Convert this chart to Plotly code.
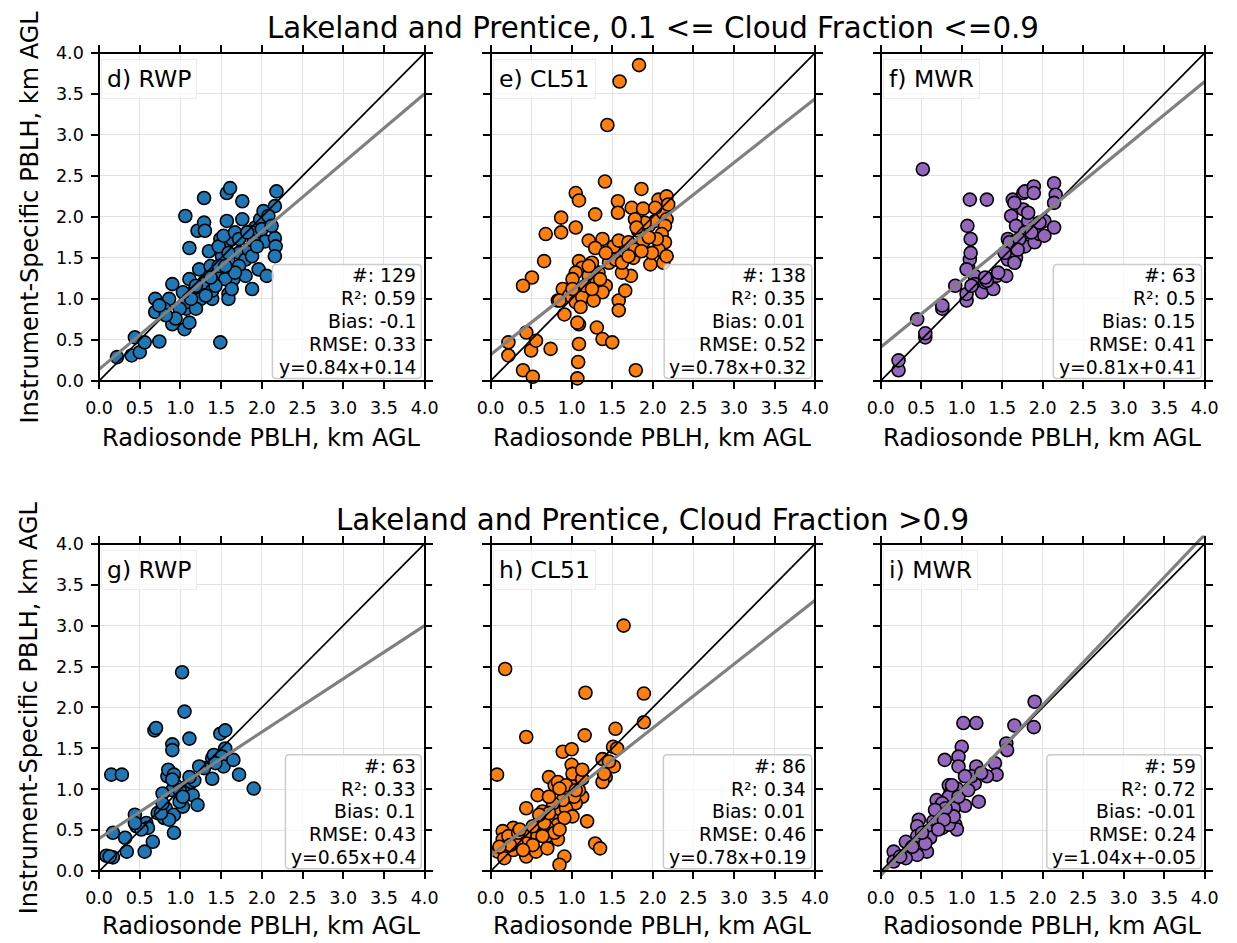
import plotly.graph_objects as go

W, H = 1237, 943
FONT = "DejaVu Sans"

# ---------------- data (km AGL) ----------------
d_rwp_x = [0.22,0.40,0.44,0.50,0.56,0.74,0.69,0.69,0.86,0.90,0.90,1.05,1.06,1.11,1.11,1.11,1.07,1.07,1.15,1.21,
           1.29,1.30,1.29,1.23,1.25,1.29,1.35,1.37,1.39,1.39,1.43,1.49,1.49,1.55,1.57,1.57,1.61,1.59,1.59,1.63,
           1.65,1.59,1.76,1.76,1.72,1.80,1.84,1.88,1.92,1.98,2.02,1.96,1.98,2.04,2.06,2.16,2.18,2.16,2.17,2.16,
           1.88,1.90,1.72,1.51,1.47,0.99,0.94,1.19,1.13,1.47,1.55,1.31,1.43,1.63,1.80,1.67,1.88,1.94,2.00,2.08,
           2.12,1.59,1.53,1.67,1.55,1.72,1.82,1.37,1.19,1.03,0.80,0.82,0.74]
d_rwp_y = [0.29,0.31,0.53,0.35,0.47,0.48,1.00,0.84,1.00,1.18,0.69,0.63,2.01,1.62,1.24,0.71,0.88,0.96,1.08,1.83,
           1.93,1.83,2.23,1.36,1.00,1.20,1.58,1.40,1.00,1.10,1.28,0.47,1.73,1.69,1.95,2.29,2.35,1.46,1.06,1.73,
           1.24,1.00,1.97,2.19,1.56,1.48,1.60,1.12,1.87,1.97,2.07,1.36,1.77,1.70,1.28,2.13,2.31,1.74,1.64,1.52,
           1.81,1.70,1.40,1.52,1.64,0.88,0.76,0.88,1.00,1.40,1.24,1.04,1.16,1.12,1.28,1.32,1.52,1.64,1.85,2.01,
           1.89,1.56,1.77,1.81,1.40,1.73,1.81,1.26,1.16,1.08,0.88,0.80,0.92]

e_cl51_x = [1.83,1.59,1.44,1.41,1.86,1.05,1.09,1.57,1.74,1.88,1.57,2.07,2.17,0.87,1.29,0.87,1.05,0.68,1.21,1.38,
            1.29,0.66,0.51,0.40,1.09,1.13,1.05,1.21,1.33,1.29,1.42,1.38,0.89,0.97,0.83,1.05,1.13,1.27,1.11,0.91,
            1.58,1.58,1.66,1.73,1.62,1.76,1.66,1.52,1.58,1.70,1.88,1.82,1.95,2.03,2.13,2.17,2.15,2.11,2.15,2.07,
            1.97,2.13,2.17,1.99,1.90,1.78,1.80,1.09,1.07,1.31,1.38,1.50,1.09,0.74,0.50,0.56,0.44,0.22,0.22,0.40,
            0.52,1.08,1.07,1.79,0.85,1.01,1.17,1.46,1.54,1.62,1.78,1.42,1.25,1.70,2.05,1.86,1.35,1.25,1.21,1.01,
            2.03,2.19,1.95]
e_cl51_y = [3.85,3.65,3.12,2.43,2.34,2.29,2.20,2.19,2.11,2.10,2.05,2.21,2.25,1.99,2.03,1.81,1.87,1.79,1.71,1.73,
            1.62,1.46,1.26,1.16,1.46,1.38,1.32,1.28,1.32,1.22,1.16,1.08,1.12,1.04,0.98,0.96,1.02,0.98,0.90,0.81,
            0.98,0.86,1.10,1.28,1.32,1.50,1.64,1.64,1.71,1.69,1.69,1.83,1.89,1.95,2.05,1.97,1.89,1.79,1.69,1.60,
            1.42,1.44,1.52,1.56,1.93,1.97,1.87,0.69,0.71,0.65,0.51,0.47,0.45,0.39,0.37,0.49,0.59,0.47,0.31,0.13,
            0.05,0.23,0.03,0.13,0.98,1.24,1.16,1.44,1.48,1.44,1.60,1.56,1.44,1.52,1.73,1.58,1.24,1.12,1.40,1.12,
            2.11,2.15,1.75]

f_mwr_x = [0.22,0.22,0.55,0.55,0.45,0.76,0.76,0.52,0.92,1.06,1.06,1.08,1.10,1.11,1.11,1.07,1.10,1.31,1.16,1.16,
           1.25,1.29,1.39,1.43,1.55,1.57,1.61,1.67,1.57,1.59,1.61,1.63,1.67,1.76,1.76,1.78,1.89,1.89,1.82,1.78,
           1.78,1.90,1.96,2.02,2.14,2.16,2.14,2.14,2.02,1.90,1.71,1.31,1.06,1.45,1.29,1.12,1.86,1.69,1.65,1.82,
           1.96,1.53,1.65]
f_mwr_y = [0.13,0.25,0.53,0.58,0.75,0.88,0.92,2.58,1.16,0.98,1.06,1.38,1.48,1.56,1.73,1.89,2.21,2.21,1.28,1.18,
           1.08,1.20,1.12,1.28,1.28,1.48,1.56,1.50,1.73,1.69,2.01,2.21,1.89,2.09,2.29,2.31,2.37,2.29,1.95,1.81,
           1.64,1.69,1.79,1.95,2.41,2.27,2.17,1.87,1.77,1.87,1.73,1.22,1.36,1.32,1.26,1.16,1.81,1.60,1.44,2.05,
           1.93,1.56,2.17]

g_rwp_x = [0.09,0.17,0.15,0.28,0.17,0.32,0.34,0.44,0.46,0.58,0.60,0.56,0.66,0.68,0.70,0.72,0.80,0.82,0.92,0.92,
           0.84,0.85,0.90,0.90,0.92,0.94,0.90,1.01,1.03,0.99,1.02,1.05,1.11,1.07,1.13,1.15,1.21,1.17,1.29,1.39,
           1.39,1.41,1.49,1.55,1.55,1.51,1.53,1.65,1.72,1.90,0.78,0.99,0.86,0.76,1.03,1.11,1.23,1.43,0.90,0.52,
           0.13,0.78,0.44]
g_rwp_y = [0.19,0.17,1.18,1.18,0.47,0.41,0.24,0.69,0.55,0.59,0.53,0.24,0.36,1.72,1.75,0.71,0.65,0.77,0.47,0.69,
           1.16,1.24,1.55,1.48,1.18,1.05,0.99,0.89,0.79,0.85,2.43,1.95,1.62,1.03,1.09,0.93,0.81,1.11,1.26,1.13,
           1.38,1.42,1.68,1.72,1.50,1.40,1.28,1.36,1.18,1.01,0.95,0.99,0.63,0.71,0.91,1.15,1.28,1.32,1.12,0.51,
           0.18,0.83,0.59]

h_cl51_x = [1.64,0.18,1.17,1.89,1.89,1.54,1.16,0.44,0.89,1.00,1.51,1.56,1.00,1.38,1.52,1.42,1.38,0.08,0.72,0.79,
            0.83,1.01,1.11,1.13,0.58,0.91,0.97,1.05,0.44,0.64,0.85,0.93,1.01,1.19,0.77,0.83,0.70,0.56,0.28,0.15,
            0.15,0.30,0.42,0.58,0.70,0.83,0.09,0.17,0.28,0.44,0.44,0.56,0.70,0.91,0.85,1.29,1.35,0.32,0.22,0.52,
            0.66,0.79,0.91,1.09,1.03,0.89,0.77,0.64,0.34,1.01,0.93,1.46,1.40,0.85,0.52,0.72,0.40,0.24,0.60,1.13,
            1.05,1.13,0.36,0.72,0.11,0.85]
h_cl51_y = [3.00,2.47,2.18,2.17,1.82,1.74,1.66,1.64,1.46,1.49,1.52,1.50,1.30,1.37,1.28,1.15,1.09,1.18,1.15,1.05,
            1.09,1.09,1.15,0.91,0.93,0.95,0.87,0.83,0.77,0.73,0.75,0.77,0.67,0.61,0.63,0.57,0.53,0.49,0.53,0.49,
            0.39,0.41,0.45,0.43,0.43,0.39,0.24,0.16,0.26,0.34,0.18,0.24,0.28,0.18,0.08,0.34,0.28,0.34,0.43,0.55,
            0.59,0.47,0.65,0.99,0.91,0.87,0.83,0.43,0.47,1.19,1.05,1.34,1.19,1.01,0.32,0.71,0.26,0.32,0.69,1.13,
            0.99,1.24,0.51,0.91,0.30,0.51]

i_mwr_x = [1.90,1.89,1.65,1.02,1.18,1.55,1.56,1.00,0.96,0.96,0.79,1.18,1.41,1.43,1.31,1.16,1.12,0.84,0.94,0.86,
           0.69,0.92,1.04,1.21,0.90,0.80,0.76,0.92,0.94,0.84,0.65,0.59,0.61,0.47,0.45,0.45,0.31,0.57,0.45,0.31,
           0.16,0.16,0.84,0.76,0.90,0.71,0.55,0.39,0.96,1.08,0.80,0.67,1.04,0.24,0.51,0.78,0.88,0.71,1.24]
i_mwr_y = [2.07,1.76,1.78,1.81,1.81,1.56,1.48,1.52,1.40,1.28,1.36,1.28,1.32,1.18,1.16,1.07,1.16,1.05,1.01,0.95,
           0.87,0.87,0.80,0.85,0.77,0.71,0.53,0.57,0.51,0.57,0.61,0.49,0.41,0.63,0.55,0.43,0.36,0.24,0.20,0.16,
           0.24,0.12,0.91,0.83,0.67,0.59,0.34,0.30,0.91,0.99,0.77,0.75,1.16,0.18,0.47,0.63,1.05,0.51,1.20]

panel_labels = ["d) RWP", "e) CL51", "f) MWR", "g) RWP", "h) CL51", "i) MWR"]
panel_colors = ["#1f77b4", "#ff7f0e", "#9467bd", "#1f77b4", "#ff7f0e", "#9467bd"]
counts = [129, 138, 63, 63, 86, 59]
r2_vals = ["0.59", "0.35", "0.5", "0.33", "0.34", "0.72"]
bias_vals = ["-0.1", "0.01", "0.15", "0.1", "0.01", "-0.01"]
rmse_vals = ["0.33", "0.52", "0.41", "0.43", "0.46", "0.24"]
slopes = [0.84, 0.78, 0.81, 0.65, 0.78, 1.04]
intercepts = [0.14, 0.32, 0.41, 0.4, 0.19, -0.05]
row_titles = ["Lakeland and Prentice, 0.1 <= Cloud Fraction <=0.9",
              "Lakeland and Prentice, Cloud Fraction >0.9"]
tick_vals = [0.0, 0.5, 1.0, 1.5, 2.0, 2.5, 3.0, 3.5, 4.0]
tick_text = ["0.0", "0.5", "1.0", "1.5", "2.0", "2.5", "3.0", "3.5", "4.0"]
x_title = "Radiosonde PBLH, km AGL"
y_title = "Instrument-Specific PBLH, km AGL"

xs_all = [d_rwp_x, e_cl51_x, f_mwr_x, g_rwp_x, h_cl51_x, i_mwr_x]
ys_all = [d_rwp_y, e_cl51_y, f_mwr_y, g_rwp_y, h_cl51_y, i_mwr_y]
for a, b in zip(xs_all, ys_all):
    assert len(a) == len(b)

# ---------------- geometry (pixels) ----------------
COL_X0 = [94.0, 489.3, 883.3]     # pixel of data x = 0
COL_X4 = [422.7, 817.0, 1210.5]   # pixel of data x = 4
ROW_Y4 = [51.0, 544.0]            # pixel of data y = 4
ROW_Y0 = [380.5, 873.0]           # pixel of data y = 0
LO, HI = -0.1, 4.1
AX_MAX = 4.0
XTITLE_Y = [438, 928]
TITLE_Y = [26, 520]
STATS_BOX_LEFT = [2.13, 2.14, 2.13, 2.29, 2.13, 2.05]   # in axis units, style only
STATS_FONT = 18.8
STATS_LINE = 22.9


def fx(px):
    return px / W


def fy(py):
    return 1 - py / H


def rounded_rect(left, right, top, bottom, rad=4.0):
    L, R, T, B = fx(left), fx(right), fy(top), fy(bottom)
    rx, ry = rad / W, rad / H
    return (f"M {L+rx},{B} L {R-rx},{B} Q {R},{B} {R},{B+ry} L {R},{T-ry} Q {R},{T} {R-rx},{T} "
            f"L {L+rx},{T} Q {L},{T} {L},{T-ry} L {L},{B+ry} Q {L},{B} {L+rx},{B} Z")


fig = go.Figure()
layout = {}
annotations = []
shapes = []

common = dict(range=[LO, HI], tickmode="array", tickvals=tick_vals, ticktext=tick_text,
              ticks="outside", ticklen=7, tickwidth=1.5, tickcolor="black",
              showline=True, linecolor="black", linewidth=1.6, zeroline=False,
              tickfont=dict(family=FONT, size=17.5, color="black"), fixedrange=True)

for k in range(6):
    r, c = divmod(k, 3)
    x0p, x4p = COL_X0[c], COL_X4[c]
    y4p, y0p = ROW_Y4[r], ROW_Y0[r]
    sx = (x4p - x0p) / AX_MAX
    sy = (y0p - y4p) / AX_MAX
    dom_x = [fx(x0p + LO * sx), fx(x0p + HI * sx)]
    dom_y = [fy(y0p - LO * sy), fy(y0p - HI * sy)]
    i = k + 1
    j = k + 7
    xi = "x" if i == 1 else f"x{i}"
    yi = "y" if i == 1 else f"y{i}"
    xj, yj = f"x{j}", f"y{j}"
    layout["xaxis" if i == 1 else f"xaxis{i}"] = dict(
        common, domain=dom_x, anchor="free", position=fy(y0p),
        showgrid=True, gridcolor="#e2e2e2", gridwidth=1, showticklabels=True,
        ticklabelstandoff=4)
    layout["yaxis" if i == 1 else f"yaxis{i}"] = dict(
        common, domain=dom_y, anchor="free", position=fx(x0p),
        showgrid=True, gridcolor="#e2e2e2", gridwidth=1, showticklabels=(c == 0),
        ticklabelstandoff=4)
    layout[f"xaxis{j}"] = dict(
        common, domain=dom_x, overlaying=xi, side="top", anchor="free", position=fy(y4p),
        showgrid=False, showticklabels=False)
    layout[f"yaxis{j}"] = dict(
        common, domain=dom_y, overlaying=yi, side="right", anchor="free", position=fx(x4p),
        showgrid=False, showticklabels=False)

    fig.add_trace(go.Scatter(
        x=xs_all[k], y=ys_all[k], mode="markers", xaxis=xi, yaxis=yi, showlegend=False,
        marker=dict(size=13, color=panel_colors[k], line=dict(color="black", width=1.6)),
        hoverinfo="x+y"))
    fig.add_trace(go.Scatter(
        x=[0, AX_MAX], y=[0, AX_MAX], mode="lines", xaxis=xj, yaxis=yj, showlegend=False,
        line=dict(color="black", width=1.7), hoverinfo="skip"))
    m, b = slopes[k], intercepts[k]
    fig.add_trace(go.Scatter(
        x=[0, AX_MAX], y=[b, m * AX_MAX + b], mode="lines", xaxis=xj, yaxis=yj, showlegend=False,
        line=dict(color="#808080", width=3.2), hoverinfo="skip"))

    # panel label
    annotations.append(dict(
        text=panel_labels[k], xref="paper", yref="paper", x=fx(x0p + 2), y=fy(y4p + 26),
        xanchor="left", yanchor="middle", showarrow=False,
        font=dict(family=FONT, size=23.5, color="black"),
        bgcolor="rgba(255,255,255,0.8)", bordercolor="#ececec", borderwidth=1, borderpad=5))

    # stats box (frame + right-aligned lines)
    shapes.append(dict(
        type="path", xref="paper", yref="paper",
        path=rounded_rect(x0p + STATS_BOX_LEFT[k] * sx, x4p - 3.3, y0p - 117.0, y0p - 2.5),
        fillcolor="rgba(255,255,255,0.8)", line=dict(color="#cccccc", width=1.5), layer="above"))
    stat_lines = [f"#: {counts[k]}", f"R²: {r2_vals[k]}", f"Bias: {bias_vals[k]}",
                  f"RMSE: {rmse_vals[k]}", f"y={slopes[k]}x+{intercepts[k]}"]
    for n, line in enumerate(stat_lines):
        annotations.append(dict(
            text=line, xref="paper", yref="paper", x=fx(x4p - 9),
            y=fy(y0p - 13.8 - STATS_LINE * (len(stat_lines) - 1 - n)),
            xanchor="right", yanchor="middle", align="right", showarrow=False,
            borderpad=0, borderwidth=0,
            font=dict(family=FONT, size=STATS_FONT, color="black")))

    # x axis title
    annotations.append(dict(
        text=x_title, xref="paper", yref="paper", x=fx((x0p + x4p) / 2), y=fy(XTITLE_Y[r]),
        xanchor="center", yanchor="middle", showarrow=False,
        font=dict(family=FONT, size=24, color="black")))
    if c == 0:
        annotations.append(dict(
            text=y_title, xref="paper", yref="paper", x=fx(24), y=fy((y4p + y0p) / 2),
            xanchor="center", yanchor="middle", textangle=-90, showarrow=False,
            font=dict(family=FONT, size=24, color="black")))

for r in range(2):
    annotations.append(dict(
        text=row_titles[r], xref="paper", yref="paper",
        x=fx((COL_X0[1] + COL_X4[1]) / 2), y=fy(TITLE_Y[r]),
        xanchor="center", yanchor="middle", showarrow=False,
        font=dict(family=FONT, size=29.3, color="black")))

fig.update_layout(
    width=W, height=H, margin=dict(l=0, r=0, t=0, b=0),
    paper_bgcolor="white", plot_bgcolor="white",
    annotations=annotations, shapes=shapes, showlegend=False, **layout)

fig.write_html("out.html", config={"displayModeBar": False},
               post_script="document.body.style.margin='0px';document.body.style.overflow='hidden';")
